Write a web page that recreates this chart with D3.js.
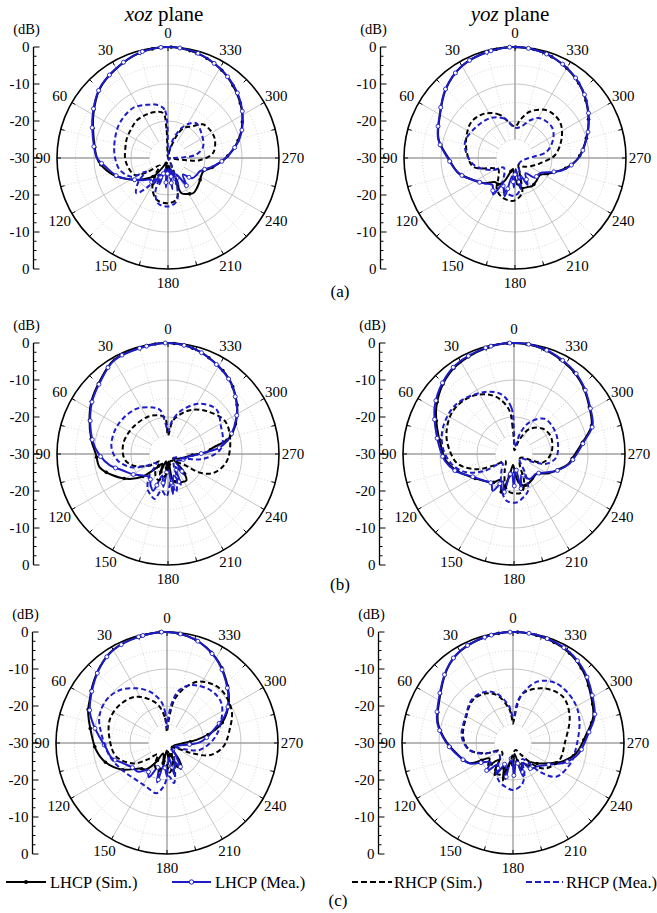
<!DOCTYPE html>
<html><head><meta charset="utf-8">
<script src="https://cdn.jsdelivr.net/npm/d3@7/dist/d3.min.js"></script>
<style>body{margin:0;background:#fff}svg{display:block}</style>
</head><body><svg id="c" width="657" height="913" font-family="'Liberation Serif','DejaVu Serif',serif"></svg>
<script>
// ---- data: [angle (deg, CCW from top), gain (dB)] ----
const angleTicks = [0,30,60,90,120,150,180,210,240,270,300,330];
const dbTicks = [0,-10,-20,-30];
const seriesNames = ["LHCP (Sim.)","LHCP (Mea.)","RHCP (Sim.)","RHCP (Mea.)"];
const panelLetters = ["(a)","(b)","(c)"];
const planeTitles = ["xoz","yoz"];

const aX_LS=[[0,0],[15,-0.6],[30,-2.1],[45,-3.8],[60,-6.7],[75,-9.2],[90,-10.8],[95,-11.6],[107,-14.5],[122,-18.9],[132,-21.5],[142,-23.8],[150,-27],[160,-28.5],[170,-27],[176,-26],[182,-28],[190,-26],[198,-25],[201,-19.8],[210,-18.8],[216,-18.3],[225,-18.8],[234,-19.4],[242,-19.8],[249,-19.8],[258,-17.8],[270,-14.4],[285,-10.2],[300,-6.8],[315,-4.2],[330,-2],[345,-0.6]];
const aX_LM=[[0,0],[15,-0.5],[30,-2],[45,-3.7],[60,-6.5],[75,-9],[90,-10.8],[98,-13],[110,-15.5],[122,-19],[132,-21],[142,-22.5],[150,-21.5],[156,-25],[162,-22.5],[168,-27],[176,-22],[182,-27],[188,-21.5],[194,-27],[200,-21.5],[207,-25],[214,-21],[222,-24],[230,-21.5],[240,-21],[247,-20.7],[260,-17.5],[270,-14.4],[285,-10],[300,-6.7],[315,-4],[330,-2],[345,-0.5]];
const aX_RS=[[0,-30],[3,-22],[6,-17.8],[15,-17.1],[26,-16.9],[40,-16.8],[51,-17.3],[65,-17.7],[75,-18.1],[90,-18.4],[102,-18.9],[117,-19.9],[124,-23],[132,-27],[142,-25],[152,-21],[165,-18.3],[180,-17.8],[191,-18.5],[199,-22],[206,-28],[230,-30],[258,-30],[263,-25],[266,-21.5],[276,-17.8],[291,-16.4],[302,-16.3],[314,-16.9],[322,-19.1],[333,-21],[339,-23.8],[348,-28]];
const aX_RM=[[0,-28],[4,-16.9],[12,-15.3],[22,-14.5],[35,-13.5],[54,-13.9],[71,-14.8],[88,-15.6],[104,-16.6],[117,-18.9],[122,-23],[128,-20],[138,-17.2],[146,-21],[153,-25],[160,-20],[168,-17.4],[180,-16.9],[191,-18],[198,-22],[205,-28],[240,-30],[268,-30],[272,-26],[277,-22.3],[288,-20],[306,-18.8],[321,-17.9],[328,-19],[336,-21.2],[345,-24.9],[354,-29]];

const aY_LS=[[0,0],[15,-0.4],[30,-1.3],[45,-3.6],[60,-6.6],[76,-8.7],[90,-12],[105,-14.2],[121,-17.9],[130,-19.4],[140,-21.5],[148,-21.6],[155,-23],[162,-26],[170,-27],[178,-25],[186,-23],[193,-21.7],[205,-21.4],[211,-21.1],[222,-21.5],[236,-21.8],[245,-20],[252,-18.2],[258,-16.2],[270,-12.9],[287,-9.7],[300,-7.1],[315,-4.2],[330,-2],[345,-0.5]];
const aY_LM=[[0,0],[15,-0.4],[30,-1.3],[45,-3.5],[60,-6.5],[76,-8.6],[90,-11.8],[105,-14.2],[121,-17.8],[130,-19.3],[140,-20.5],[149,-18.5],[155,-22],[165,-19.3],[171,-25],[178,-22],[184,-27],[190,-21.5],[197,-25],[205,-22],[215,-25],[225,-22.5],[239,-22.1],[250,-19],[256,-16.6],[270,-12.8],[287,-9.6],[300,-7],[315,-4.1],[330,-1.9],[345,-0.5]];
const aY_RS=[[0,-21.5],[19,-17.7],[34,-15.5],[50,-14.7],[64,-15.5],[82,-16.8],[102,-18.5],[115,-23.5],[123,-24.6],[140,-23],[149,-20.4],[161,-18.9],[178,-18.4],[191,-20.3],[196,-25],[210,-28],[224,-26.8],[240,-25.5],[258,-23.1],[274,-19.2],[293,-16.3],[309,-14.4],[326,-14.5],[342,-16.8],[352,-19.5]];
const aY_RM=[[0,-21.8],[15,-19],[32,-17.3],[51,-16.6],[72,-15.8],[90,-17.4],[103,-19.4],[119,-23.3],[130,-26],[145,-25],[155,-22],[165,-20.5],[172,-19.9],[180,-19.8],[189,-21.3],[197,-25],[210,-28],[250,-28],[265,-27],[274,-25],[281,-21.3],[297,-18.4],[310,-17],[328,-17.3],[338,-19],[350,-21.5]];

const bX_LS=[[0,0],[15,-0.3],[30,-0.7],[43,-3],[55,-4.8],[64,-6.4],[80,-9],[90,-10.5],[101,-11.2],[111,-14],[123,-17.6],[132,-21],[140,-25],[150,-27],[158,-24],[165,-28],[175,-25],[183,-28],[190,-23],[197,-22],[207,-21.5],[215,-21.3],[222,-24],[230,-28],[245,-27],[258,-25.5],[268,-23.2],[273,-19.5],[278,-17.7],[285,-12.7],[300,-8.4],[310,-6.1],[320,-4],[330,-2.6],[345,-0.8]];
const bX_LM=[[0,0],[15,-0.4],[30,-0.8],[43,-3.2],[55,-5],[64,-6.6],[80,-9.3],[91,-11.5],[101,-14],[110,-17],[120,-19],[130,-21],[142,-22],[150,-20.5],[158,-19.3],[165,-24],[172,-21],[180,-26],[187,-19.1],[195,-24],[203,-21],[210,-26],[218,-23],[228,-27],[245,-26],[258,-25],[262,-24.5],[270,-21.5],[277,-16],[285,-12.8],[300,-8.5],[310,-6.2],[320,-4.1],[330,-2.7],[345,-0.8]];
const bX_RS=[[0,-25],[5,-20.1],[18,-19],[31,-18.5],[56,-18],[78,-17.6],[97,-18.2],[108,-20],[122,-24],[132,-27],[145,-24],[152,-23],[160,-22.5],[172,-24],[185,-27],[200,-28],[225,-27],[237,-24.1],[239,-20.5],[247,-16.8],[262,-14.1],[282,-12.8],[300,-12.2],[318,-14.4],[332,-16.5],[342,-18.6],[352,-21]];
const bX_RM=[[0,-24],[3,-22.8],[10,-18],[18,-16.8],[35,-15.1],[52,-14.5],[66,-14.3],[83,-14.6],[98,-16.4],[110,-19.5],[118,-23],[128,-26],[140,-22],[150,-19],[157,-18],[163.5,-17.3],[170,-20],[178,-18.5],[185,-22],[192,-19.5],[200,-23],[210,-27],[240,-28],[255,-25],[262,-20.4],[274,-16],[284,-14.7],[297,-13.9],[313,-12.2],[328,-14],[343,-17.7],[353,-21]];

const bY_LS=[[0,0],[15,-0.4],[33,-1.5],[45,-3],[59,-5.5],[71,-8],[85,-10.3],[96,-11.6],[106,-13.8],[120,-17.2],[135,-19.5],[144,-20.5],[152,-22],[162,-19.1],[168,-24],[175,-27],[183,-25],[190,-22],[200,-21],[215,-21.5],[228,-21.9],[240,-19.5],[249,-17.7],[260,-15],[267,-14],[280,-11.1],[290,-7.7],[302,-6],[315,-3.8],[327,-2.2],[345,-0.5]];
const bY_LM=[[0,0],[15,-0.3],[33,-1.2],[45,-2.7],[59,-5],[71,-7.5],[85,-9.8],[96,-11.3],[106,-13.5],[120,-17.5],[132,-19.2],[142,-20],[150,-18.5],[158,-22],[165,-18.8],[172,-25],[180,-21],[186,-26],[192,-20],[200,-24],[212,-22],[228,-22],[240,-20],[249,-17.5],[260,-14.8],[267,-13.6],[280,-10.8],[290,-7.4],[302,-5.8],[315,-3.6],[327,-2],[345,-0.4]];
const bY_RS=[[0,-26.4],[3,-22.8],[6,-18.2],[15,-14.5],[25,-12.2],[38,-10.5],[55,-9.8],[73,-10.9],[87,-12.6],[100,-14.6],[112,-19],[120,-24],[130,-27],[150,-25],[165,-21],[174,-19.6],[191,-19.4],[200,-22],[210,-27],[240,-28],[250,-25.5],[254,-21.8],[272,-19.9],[294,-19],[311,-19.6],[328,-22],[340,-26],[355,-29]];
const bY_RM=[[0,-24],[3.3,-17.4],[12,-13.5],[25,-11.5],[49,-9.4],[69,-9.5],[85,-10.7],[99,-12.9],[111,-16.2],[120,-21],[128,-26],[145,-24],[160,-20],[171,-17.2],[183,-16.9],[192,-18],[201,-19.4],[210,-24],[230,-28],[248,-24],[253,-20.9],[265,-18.6],[283,-17.8],[300,-17.3],[319,-17.4],[334,-20.5],[343,-24],[355,-28]];

const cX_LS=[[0,0],[15,-0.3],[30,-0.9],[41,-2.5],[52,-4.5],[61,-6.1],[68,-7],[83,-9.4],[96,-10.8],[108,-12.7],[121,-16],[133,-19.9],[142,-21],[150,-24],[160,-27],[170,-24],[178,-28],[186,-25],[195,-27],[203,-23],[208,-22.7],[215,-24],[225,-28],[250,-28],[268,-26],[276,-22],[284,-17.2],[291,-13.8],[303,-10.1],[317,-6.6],[330,-3.5],[345,-1]];
const cX_LM=[[0,0],[15,-0.3],[30,-1],[41,-2.6],[52,-4.7],[61,-6.3],[68,-7.5],[76,-9.5],[85,-11.7],[95,-13.5],[105,-14.5],[115,-17],[125,-18.5],[135,-19],[145,-21],[152,-19.5],[160,-23],[166,-19],[172,-24],[180,-21],[187,-26],[193,-21],[200,-25],[208,-22],[216,-26],[230,-28],[255,-27],[266,-24],[271,-21.2],[280,-18.5],[288,-16.1],[295,-12.8],[303,-10.2],[317,-6.8],[330,-3.6],[345,-1]];
const cX_RS=[[0,-27],[5,-22.9],[15,-18.9],[33.5,-15],[51,-13.6],[68,-13.3],[87,-14.5],[105,-15.8],[121,-19.3],[130,-23],[140,-26],[152,-23],[163,-22],[175,-25],[185,-22],[195,-24],[205,-27],[230,-28],[246,-24],[248,-22.4],[254,-18],[266,-14.8],[282,-12.7],[297,-10.4],[316,-9.5],[332,-11.2],[341,-13.9],[350,-18],[356,-24]];
const cX_RM=[[0,-26],[3,-22],[8,-18.7],[18,-15.5],[29,-13.1],[42,-10.8],[55,-9.9],[69,-10.4],[82,-12.1],[103,-14.1],[117,-15.5],[127,-16.3],[140,-17],[155,-16.9],[168,-16.1],[175,-18],[183,-21],[190,-19],[198,-23],[208,-26],[230,-28],[250,-25],[258,-21],[274,-17.5],[287,-15.1],[306,-11.8],[320,-11.5],[337,-13],[347,-15.3],[353,-19],[357,-23]];

const cY_LS=[[0,0],[15,-0.4],[30,-1.4],[42,-3.3],[60,-7],[75,-9],[89,-12],[100,-14.4],[115,-17.1],[123,-22.4],[132,-21],[140,-24],[150,-20],[158,-23],[165,-19.5],[172,-25],[180,-24],[188,-27],[196,-22],[205,-24],[215,-22.5],[222,-23],[229,-21.6],[240,-19],[250,-15.6],[261,-12.7],[277,-10],[288,-7.2],[301,-5.4],[315,-3],[329,-1.2],[345,-0.3]];
const cY_LM=[[0,0],[15,-0.4],[30,-1.3],[42,-3.2],[60,-6.8],[75,-8.8],[89,-11.8],[100,-14.2],[115,-17],[122,-20],[130,-22],[137,-19.5],[145,-23],[152,-20.5],[160,-24],[168,-20],[175,-26],[182,-21],[190,-25],[197,-20.5],[205,-24],[215,-21.5],[225,-21],[235,-19.5],[243,-17.5],[250,-14.8],[261,-12],[277,-9.5],[288,-6.8],[301,-5],[315,-2.7],[329,-1],[345,-0.2]];
const cY_RS=[[0,-24.7],[4,-22],[8,-20.1],[18,-16.5],[28,-14.8],[43,-14.1],[60.6,-15.5],[82.8,-16.4],[99,-18.1],[111,-22.3],[120,-26],[135,-26],[145,-22],[151,-20.6],[160,-21],[170,-24],[180,-27],[200,-28],[215,-26],[225,-21],[232.8,-18.7],[250,-16.6],[270,-16],[295,-13.1],[312.8,-11.6],[331,-13.1],[348.6,-16.3],[354,-20],[357,-23]];
const cY_RM=[[0,-23],[4,-21],[8,-19.3],[18,-16],[28,-14.3],[43,-13.8],[60.6,-15.3],[82.8,-16],[99,-18],[110,-21.5],[118,-25],[135,-25],[150,-21],[160,-19],[170,-18],[180,-17.3],[192,-18.5],[200,-21],[210,-25],[218,-23],[223,-19.4],[232,-15.2],[249,-13.6],[260.5,-13.1],[289,-11],[305.6,-10],[324,-10.1],[339,-12.3],[353,-18.3],[357,-22.9]];

// ---- layout ----
const R = 111;
const BLUE = "#1c1cc8";
const FONT = "'Liberation Serif','DejaVu Serif',serif";
const panels = [
  {cx:168, cy:158, s:[aX_LS,aX_LM,aX_RS,aX_RM]},
  {cx:515, cy:158, s:[aY_LS,aY_LM,aY_RS,aY_RM]},
  {cx:168, cy:454, s:[bX_LS,bX_LM,bX_RS,bX_RM]},
  {cx:514, cy:454, s:[bY_LS,bY_LM,bY_RS,bY_RM]},
  {cx:167, cy:743, s:[cX_LS,cX_LM,cX_RS,cX_RM]},
  {cx:513, cy:743, s:[cY_LS,cY_LM,cY_RS,cY_RM]}
];
const styles = [
  {color:"#000", dash:null, marker:"dot"},
  {color:BLUE, dash:null, marker:"circle"},
  {color:"#000", dash:"5,3", marker:null},
  {color:BLUE, dash:"5,3", marker:null}
];

const svg = d3.select("#c");
const rScale = d3.scaleLinear().domain([-30,0]).range([0,R]).clamp(true);
const rad = d => d*Math.PI/180;
function txt(sel){ return sel.append("text").attr("font-family",FONT).attr("fill","#000"); }

function drawPanel(p){
  const g = svg.append("g").attr("transform",`translate(${p.cx},${p.cy})`);
  [-5,-15,-25].forEach(v=>g.append("circle").attr("r",rScale(v)).attr("fill","none")
     .attr("stroke","#c8c8c8").attr("stroke-width",0.8).attr("stroke-dasharray","1,2"));
  [-10,-20].forEach(v=>g.append("circle").attr("r",rScale(v)).attr("fill","none")
     .attr("stroke","#b8b8b8").attr("stroke-width",0.8));
  const r0 = rScale(-25);
  d3.range(0,360,15).forEach(a=>{
    const major = a%30===0, axis = a%90===0;
    const s = Math.sin(rad(a)), c = Math.cos(rad(a));
    g.append("line").attr("x1",-r0*s).attr("y1",-r0*c).attr("x2",-R*s).attr("y2",-R*c)
     .attr("stroke", axis?"#a0a0a0":(major?"#b8b8b8":"#cccccc"))
     .attr("stroke-width", axis?1.4:0.8)
     .attr("stroke-dasharray", major?null:"1,2");
    g.append("line").attr("x1",-(R-4)*s).attr("y1",-(R-4)*c).attr("x2",-R*s).attr("y2",-R*c)
     .attr("stroke","#000").attr("stroke-width",1);
  });
  g.append("circle").attr("r",R).attr("fill","none").attr("stroke","#000").attr("stroke-width",1.6);
  angleTicks.forEach(a=>{
    txt(g).attr("x",-125*Math.sin(rad(a))).attr("y",-125*Math.cos(rad(a)))
     .attr("text-anchor","middle").attr("dominant-baseline","central")
     .attr("font-size",15).text(a);
  });
  const line = d3.lineRadial().angle(d=>-rad(d[0])).radius(d=>rScale(d[1]))
     .curve(d3.curveCatmullRomClosed.alpha(0.5));
  p.s.forEach((data,i)=>{
    const st = styles[i];
    const path = g.append("path").attr("d",line(data)).attr("fill","none")
      .attr("stroke",st.color).attr("stroke-width",2).attr("stroke-linejoin","round")
      .attr("stroke-dasharray",st.dash);
    if(st.marker){
      const node = path.node(), L = node.getTotalLength();
      for(let l=0;l<L;l+=19){
        const pt = node.getPointAtLength(l);
        if(st.marker==="circle"){
          g.append("circle").attr("cx",pt.x).attr("cy",pt.y).attr("r",2)
           .attr("fill","#fff").attr("stroke",BLUE).attr("stroke-width",0.9);
        } else {
          g.append("circle").attr("cx",pt.x).attr("cy",pt.y).attr("r",1.8).attr("fill","#000");
        }
      }
    }
  });
  const ax = g.append("g").attr("transform",`translate(${-134.5},0)`);
  ax.append("line").attr("y1",-R).attr("y2",R).attr("stroke","#000").attr("stroke-width",1.3);
  d3.range(0,-30.01,-2.5).forEach(v=>{
    const major = v%10===0;
    [-1,1].forEach(sg=>{
      ax.append("line").attr("x1",0).attr("x2",major?6:3)
        .attr("y1",sg*rScale(v)).attr("y2",sg*rScale(v)).attr("stroke","#000").attr("stroke-width",1);
    });
  });
  dbTicks.forEach(v=>{
    const ys = v===-30?[0]:[-rScale(v),rScale(v)];
    ys.forEach(y=>{
      txt(ax).attr("x",-4).attr("y",y).attr("text-anchor","end")
      .attr("dominant-baseline","central").attr("font-size",15).text(v);
    });
  });
  txt(ax).attr("x",-7).attr("y",-R-13).attr("text-anchor","middle")
    .attr("font-size",14.5).text("(dB)");
}
panels.forEach(drawPanel);

[[164,planeTitles[0]],[510,planeTitles[1]]].forEach(([x,t])=>{
  const tx = txt(svg).attr("x",x).attr("y",21).attr("text-anchor","middle").attr("font-size",21);
  tx.append("tspan").attr("font-style","italic").text(t);
  tx.append("tspan").text(" plane");
});
[[340,297],[340,590],[338,906]].forEach(([x,y],i)=>
  txt(svg).attr("x",x).attr("y",y).attr("text-anchor","middle").attr("font-size",17).text(panelLetters[i]));

const legY = 882;
const legItems = [
  {x1:6,x2:46,tx:50},{x1:172,x2:211,tx:215},{x1:352,x2:392,tx:394},{x1:526,x2:563,tx:566}
];
legItems.forEach((it,i)=>{
  const st = styles[i];
  svg.append("line").attr("x1",it.x1).attr("x2",it.x2).attr("y1",legY).attr("y2",legY)
    .attr("stroke",st.color).attr("stroke-width",2).attr("stroke-dasharray",st.dash?"6,3":null);
  const mx=(it.x1+it.x2)/2;
  if(st.marker==="dot") svg.append("circle").attr("cx",mx).attr("cy",legY).attr("r",2).attr("fill","#000");
  if(st.marker==="circle") svg.append("circle").attr("cx",mx).attr("cy",legY).attr("r",2.2)
      .attr("fill","#fff").attr("stroke",BLUE).attr("stroke-width",1);
  txt(svg).attr("x",it.tx).attr("y",legY+6).attr("font-size",16.5).text(seriesNames[i]);
});
</script></body></html>
